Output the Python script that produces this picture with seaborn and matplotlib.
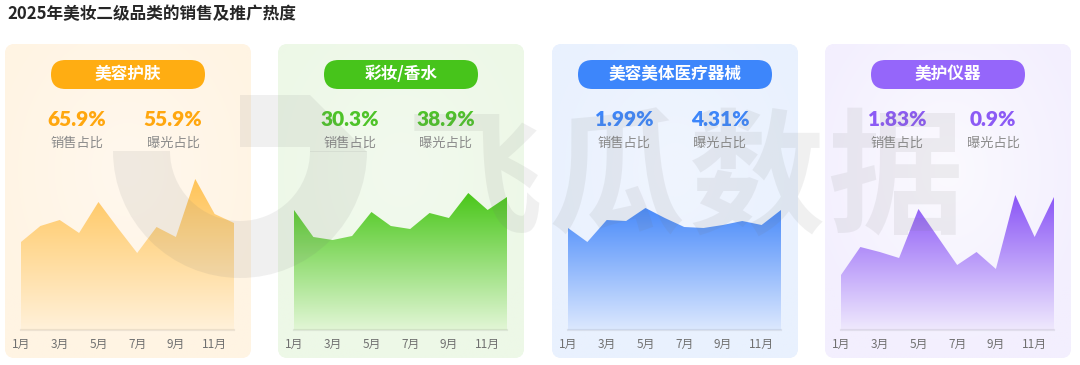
import numpy as np
import pandas as pd
import matplotlib
matplotlib.use("Agg")
import matplotlib.pyplot as plt
import matplotlib.colors as mcolors
from matplotlib.patches import FancyBboxPatch, PathPatch, Wedge, Polygon
import seaborn as sns

# ---- data -------------------------------------------------------------
TITLE = "2025年美妆二级品类的销售及推广热度"
CATEGORIES = ["美容护肤", "彩妆/香水", "美容美体医疗器械", "美护仪器"]
SALES_SHARE = ["65.9%", "30.3%", "1.99%", "1.83%"]
EXPOSURE_SHARE = ["55.9%", "38.9%", "4.31%", "0.9%"]
MONTHS = list(range(1, 13))
TICK_MONTHS = [1, 3, 5, 7, 9, 11]
TICK_LABELS = ["1月", "3月", "5月", "7月", "9月", "11月"]

# monthly heat index
HEAT_SKINCARE = [88, 104, 110, 97, 128, 102, 77, 103, 93, 151, 116, 107]
HEAT_MAKEUP = [120, 93, 90, 94, 118, 104, 101, 117, 112, 137, 120, 133]
HEAT_DEVICE_MED = [102, 88, 110, 109, 122, 112, 103, 102, 105, 109, 105, 120]
HEAT_BEAUTY_TOOL = [55, 83, 78, 72, 121, 93, 65, 78, 61, 135, 93, 133]
SERIES = [HEAT_SKINCARE, HEAT_MAKEUP, HEAT_DEVICE_MED, HEAT_BEAUTY_TOOL]

# ---- styling ----------------------------------------------------------
PILL_COLORS = ["#FFAD12", "#47C41B", "#3D86FB", "#9566FA"]
VALUE_COLORS = ["#FFA70F", "#4EC329", "#3D86FB", "#8C5BF5"]
AREA_TOP = ["#FFC458", "#4AC71A", "#4A8BFA", "#8A55F6"]
AREA_BOTTOM = ["#FFF1DA", "#E2F6D6", "#DCE8FE", "#EFE9FD"]
PANEL_EDGE = ["#FFF4E3", "#EDF8E7", "#E9F1FE", "#F3EFFE"]
PANEL_CENTER = ["#FFF8EE", "#F2FAEE", "#F0F5FE", "#FBFAFF"]
PILL_WIDTHS = [154, 154, 194, 154]

W, H = 1080, 365
PANEL_LEFTS = [5, 278, 552, 825]
PANEL_W, PANEL_TOP, PANEL_H = 246, 44, 314

sns.set_theme(style="white")
plt.rcParams["font.family"] = ["Noto Sans CJK SC", "DejaVu Sans"]

fig = plt.figure(figsize=(W / 100, H / 100), dpi=100)
fig.patch.set_facecolor("white")

bg = fig.add_axes([0, 0, 1, 1])
bg.set_xlim(0, W)
bg.set_ylim(H, 0)
bg.axis("off")

bg.text(7, 14, TITLE, fontsize=12, fontweight="bold", color="#262626",
        ha="left", va="center")

for i, left in enumerate(PANEL_LEFTS):
    # rounded panel with a soft radial tint
    panel = FancyBboxPatch((left, PANEL_TOP), PANEL_W, PANEL_H,
                           boxstyle="round,pad=0,rounding_size=10",
                           facecolor=PANEL_EDGE[i], edgecolor="none", zorder=1)
    bg.add_patch(panel)
    gx, gy = np.meshgrid(np.linspace(-1, 1, 120), np.linspace(-1, 1, 150))
    t = np.clip(np.sqrt(gx ** 2 + (gy + 0.2) ** 2) / 1.2, 0, 1)[..., None]
    c0 = np.array(mcolors.to_rgb(PANEL_CENTER[i]))
    c1 = np.array(mcolors.to_rgb(PANEL_EDGE[i]))
    img = c0 * (1 - t) + c1 * t
    im = bg.imshow(img, extent=(left, left + PANEL_W, PANEL_TOP + PANEL_H, PANEL_TOP),
                   zorder=1.5, interpolation="bilinear")
    im.set_clip_path(panel)

    cx = left + PANEL_W / 2
    pw = PILL_WIDTHS[i]
    pill = FancyBboxPatch((cx - pw / 2, 60), pw, 29,
                          boxstyle="round,pad=0,rounding_size=14.5",
                          facecolor=PILL_COLORS[i], edgecolor="none", zorder=2)
    bg.add_patch(pill)
    bg.text(cx, 74.5, CATEGORIES[i], fontsize=12, fontweight="bold",
            color="white", ha="center", va="center", zorder=3)

    for dx, val, lab in [(72, SALES_SHARE[i], "销售占比"), (168, EXPOSURE_SHARE[i], "曝光占比")]:
        bg.text(left + dx, 119, val, fontsize=15, fontweight="heavy",
                color=VALUE_COLORS[i], ha="center", va="center", zorder=3,
                family=["Lato", "DejaVu Sans"])
        bg.text(left + dx, 143, lab, fontsize=9.5, color="#8A8A8A",
                ha="center", va="center", zorder=3)

bg.set_xlim(0, W)
bg.set_ylim(H, 0)

# ---- area charts ------------------------------------------------------
YMAX = 180
for i, left in enumerate(PANEL_LEFTS):
    ax = fig.add_axes([(left + 16) / W, (H - 330) / H, 213 / W, 180 / H])
    ax.patch.set_alpha(0)
    df = pd.DataFrame({"month": MONTHS, "heat": SERIES[i]})
    sns.lineplot(data=df, x="month", y="heat", ax=ax, color=AREA_TOP[i], linewidth=0)
    fill = ax.fill_between(df["month"], df["heat"], 0, facecolor="none", edgecolor="none")
    clip = PathPatch(fill.get_paths()[0], transform=ax.transData,
                     facecolor="none", edgecolor="none")
    ax.add_patch(clip)

    top = max(SERIES[i])
    frac = np.linspace(0, 1, 256)[:, None]
    ctop = np.array(mcolors.to_rgb(AREA_TOP[i]))
    cbot = np.array(mcolors.to_rgb(AREA_BOTTOM[i]))
    grad = cbot * (1 - frac[..., None]) + ctop * frac[..., None]
    grad = np.repeat(grad, 2, axis=1)
    im = ax.imshow(grad, extent=(1, 12, 0, top), origin="lower", aspect="auto",
                   interpolation="bilinear", zorder=1)
    im.set_clip_path(clip)

    ax.set_xlim(1, 12)
    ax.set_ylim(0, YMAX)
    ax.set_xticks(TICK_MONTHS)
    ax.set_xticklabels(TICK_LABELS, fontsize=8.5, color="#707070")
    ax.tick_params(axis="x", length=0, pad=6)
    ax.set_yticks([])
    ax.set_xlabel("")
    ax.set_ylabel("")
    for s in ["top", "left", "right"]:
        ax.spines[s].set_visible(False)
    ax.spines["bottom"].set_color((0, 0, 0, 0.07))
    ax.spines["bottom"].set_linewidth(1.6)

# ---- watermark on top -------------------------------------------------
wm = fig.add_axes([0, 0, 1, 1])
wm.patch.set_alpha(0)
wm.set_xlim(0, W)
wm.set_ylim(H, 0)
wm.axis("off")
wm_color = (0.45, 0.45, 0.45, 0.1)
wm.add_patch(Wedge((240, 151), 127, 0, 180, width=57, facecolor=wm_color, edgecolor="none"))
wm.add_patch(Polygon([(240, 95), (310, 95), (367, 152), (310, 152), (310, 147), (240, 147)],
                     closed=True, facecolor=wm_color, edgecolor="none"))
for ch, x in zip("飞瓜数据", [475, 617, 757, 895]):
    wm.text(x, 183, ch, fontsize=98, fontweight="bold", color=wm_color,
            ha="center", va="center")

fig.savefig("out.png", dpi=100)
